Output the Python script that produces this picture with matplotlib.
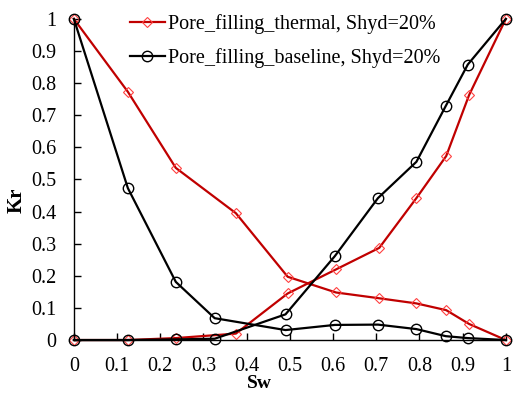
import matplotlib
matplotlib.use("Agg")
import matplotlib.pyplot as plt
from matplotlib.ticker import MultipleLocator, FuncFormatter

# thermal case (red): water and gas branches
sw_thermal = [0, 0.125, 0.236, 0.375, 0.495, 0.607, 0.707, 0.793, 0.862, 0.915, 1]
krg_thermal = [1, 0.773, 0.536, 0.395, 0.197, 0.148, 0.130, 0.114, 0.093, 0.050, 0]
krw_thermal = [0, 0.0, 0.006, 0.020, 0.145, 0.220, 0.287, 0.442, 0.573, 0.763, 1]

# baseline case (black)
sw_base = [0, 0.125, 0.236, 0.326, 0.490, 0.604, 0.704, 0.793, 0.861, 0.912, 1]
krg_base = [1, 0.473, 0.181, 0.068, 0.031, 0.047, 0.048, 0.034, 0.012, 0.006, 0]
krw_base = [0, 0.0, 0.002, 0.004, 0.080, 0.261, 0.442, 0.555, 0.729, 0.858, 1]

label_thermal = "Pore_filling_thermal, Shyd=20%"
label_base = "Pore_filling_baseline, Shyd=20%"

plt.rcParams['font.family'] = ['Liberation Serif', 'DejaVu Serif']

fig = plt.figure(figsize=(5.13, 3.94), dpi=100)
ax = fig.add_axes([0.144, 0.137, 0.842, 0.815])

red = '#C00000'
ax.plot(sw_thermal, krg_thermal, color=red, lw=1.6, marker='D', ms=5.5,
        mfc='none', mec='#FF4040', mew=0.8, clip_on=False, label=label_thermal)
ax.plot(sw_thermal, krw_thermal, color=red, lw=1.6, marker='D', ms=5.5,
        mfc='none', mec='#FF4040', mew=0.8, clip_on=False)
ax.plot(sw_base, krg_base, color='black', lw=1.6, marker='o', ms=7.5,
        mfc='none', mec='black', mew=1.0, clip_on=False, label=label_base)
ax.plot(sw_base, krw_base, color='black', lw=1.6, marker='o', ms=7.5,
        mfc='none', mec='black', mew=1.0, clip_on=False)

ax.set_xlim(0, 1)
ax.set_ylim(0, 1)
ax.xaxis.set_major_locator(MultipleLocator(0.1))
ax.yaxis.set_major_locator(MultipleLocator(0.1))
fmt = FuncFormatter(lambda v, p: f"{v:.1f}".rstrip('0').rstrip('.') if v not in (0, 1) else f"{int(round(v))}")
ax.xaxis.set_major_formatter(fmt)
ax.yaxis.set_major_formatter(fmt)
ax.tick_params(axis='y', direction='in', length=5, width=1, labelsize=14.5, pad=12.5)
ax.tick_params(axis='x', direction='in', length=5, width=1, labelsize=14.5, pad=12.5)

ax.spines['top'].set_visible(False)
ax.spines['right'].set_visible(False)
ax.spines['left'].set_linewidth(1)
ax.spines['bottom'].set_linewidth(1)

ax.set_xlabel("Sw", fontsize=14, fontweight='bold')
ax.set_ylabel("Kr", fontsize=15, fontweight='bold')
ax.xaxis.set_label_coords(0.43, -0.108)
ax.yaxis.set_label_coords(-0.109, 0.436)

ax.legend(loc='upper left', bbox_to_anchor=(0.087, 1.07), frameon=False,
          fontsize=14.5, handlelength=1.75, handletextpad=0.15, labelspacing=0.7)

fig.savefig("out.png", dpi=100)
